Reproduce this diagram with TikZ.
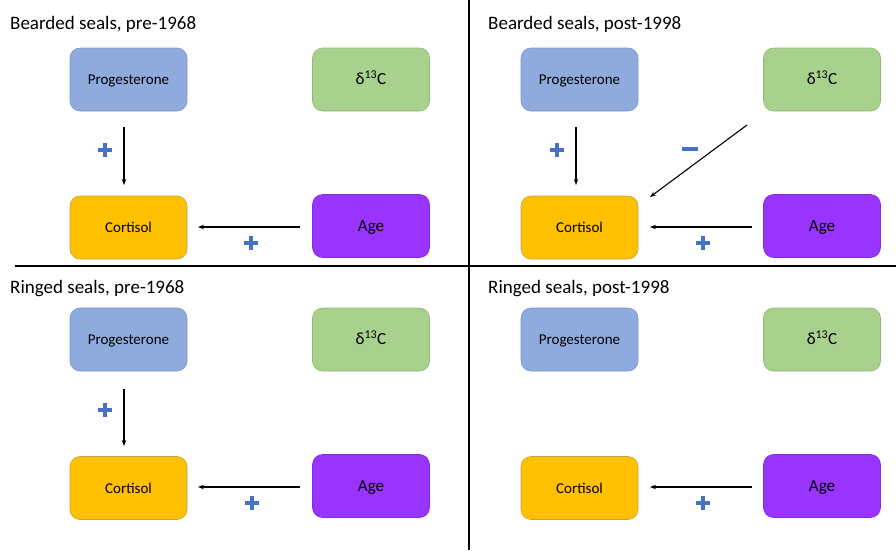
\documentclass[tikz,border=0pt]{standalone}
\usepackage{fontspec}
\setmainfont{Carlito}
\usetikzlibrary{arrows.meta}
\definecolor{progc}{HTML}{8FAADC}
\definecolor{progb}{HTML}{7A96CC}
\definecolor{deltc}{HTML}{A9D18E}
\definecolor{deltb}{HTML}{8DB873}
\definecolor{cortc}{HTML}{FFC000}
\definecolor{cortb}{HTML}{C9A240}
\definecolor{agec}{HTML}{9933FF}
\definecolor{ageb}{HTML}{7F2BD6}
\definecolor{signc}{HTML}{4472C4}
\tikzset{
  box/.style={rounded corners=10pt, minimum width=117pt, minimum height=63pt, line width=0.6pt, inner sep=0pt, text height=12pt, text depth=2pt},
  progbox/.style={box, fill=progc, draw=progb, font=\fontsize{15}{18}\selectfont},
  deltbox/.style={box, fill=deltc, draw=deltb, font=\fontsize{17}{20}\selectfont},
  cortbox/.style={box, fill=cortc, draw=cortb, font=\fontsize{15}{18}\selectfont},
  agebox/.style={box, fill=agec, draw=ageb, font=\fontsize{17}{20}\selectfont},
  conn/.style={line width=1.1pt, -{Stealth[length=6pt,width=4.5pt]}},
  ttl/.style={anchor=base west, inner sep=0pt, font=\fontsize{19}{22}\selectfont},
  divider/.style={line width=2pt, black},
  plussign/.style={line width=4.5pt, signc},
}
\newcommand{\plusat}[2]{\draw[plussign] (#1-7,#2) -- (#1+7,#2) (#1,#2-7) -- (#1,#2+7);}
\newcommand{\minusat}[2]{\draw[plussign] (#1-8,#2) -- (#1+8,#2);}
\begin{document}
\begin{tikzpicture}[x=1pt,y=-1pt]
\useasboundingbox (0,0) rectangle (896,550);
% dividers
\draw[divider] (15,266) -- (896,266);
\draw[divider] (469,0) -- (469,550);

% Panel 1
\node[ttl] (t1) at (10,29) {Bearded seals, pre-1968};
\node[progbox] (p1) at (128.5,79.5) {Progesterone};
\node[deltbox] (d1) at (371,79.5) {δ\textsuperscript{13}C};
\node[cortbox] (c1) at (128.5,227.5) {Cortisol};
\node[agebox] (a1) at (371,226) {Age};
\coordinate (p1s) at (124,127);
\coordinate (p1e) at (124,185);
\draw[conn] (p1s) -- (p1e);
\coordinate (a1s) at (300,227);
\coordinate (a1e) at (198,227);
\draw[conn] (a1s) -- (a1e);
\plusat{105}{150}
\plusat{251}{243}

% Panel 2
\node[ttl] (t2) at (488,29) {Bearded seals, post-1998};
\node[progbox] (p2) at (579.5,79.5) {Progesterone};
\node[deltbox] (d2) at (822,79.5) {δ\textsuperscript{13}C};
\node[cortbox] (c2) at (579.5,227.5) {Cortisol};
\node[agebox] (a2) at (822,226) {Age};
\coordinate (p2s) at (576,127);
\coordinate (p2e) at (576,185);
\draw[conn] (p2s) -- (p2e);
\coordinate (d2s) at (747,125);
\coordinate (d2e) at (650,197);
\draw[conn] (d2s) -- (d2e);
\coordinate (a2s) at (752,227);
\coordinate (a2e) at (650,227);
\draw[conn] (a2s) -- (a2e);
\plusat{557}{150}
\minusat{690}{149}
\plusat{703}{243}

% Panel 3
\node[ttl] (t3) at (10,293) {Ringed seals, pre-1968};
\node[progbox] (p3) at (128.5,339.5) {Progesterone};
\node[deltbox] (d3) at (371,339.5) {δ\textsuperscript{13}C};
\node[cortbox] (c3) at (128.5,488) {Cortisol};
\node[agebox] (a3) at (371,486) {Age};
\coordinate (p3s) at (124,389);
\coordinate (p3e) at (124,446);
\draw[conn] (p3s) -- (p3e);
\coordinate (a3s) at (300,487);
\coordinate (a3e) at (198,487);
\draw[conn] (a3s) -- (a3e);
\plusat{105}{410}
\plusat{252}{503}

% Panel 4
\node[ttl] (t4) at (488,293) {Ringed seals, post-1998};
\node[progbox] (p4) at (579.5,339.5) {Progesterone};
\node[deltbox] (d4) at (822,339.5) {δ\textsuperscript{13}C};
\node[cortbox] (c4) at (579.5,488) {Cortisol};
\node[agebox] (a4) at (822,486) {Age};
\coordinate (a4s) at (752,487);
\coordinate (a4e) at (650,487);
\draw[conn] (a4s) -- (a4e);
\plusat{703}{503}
\end{tikzpicture}
\end{document}
